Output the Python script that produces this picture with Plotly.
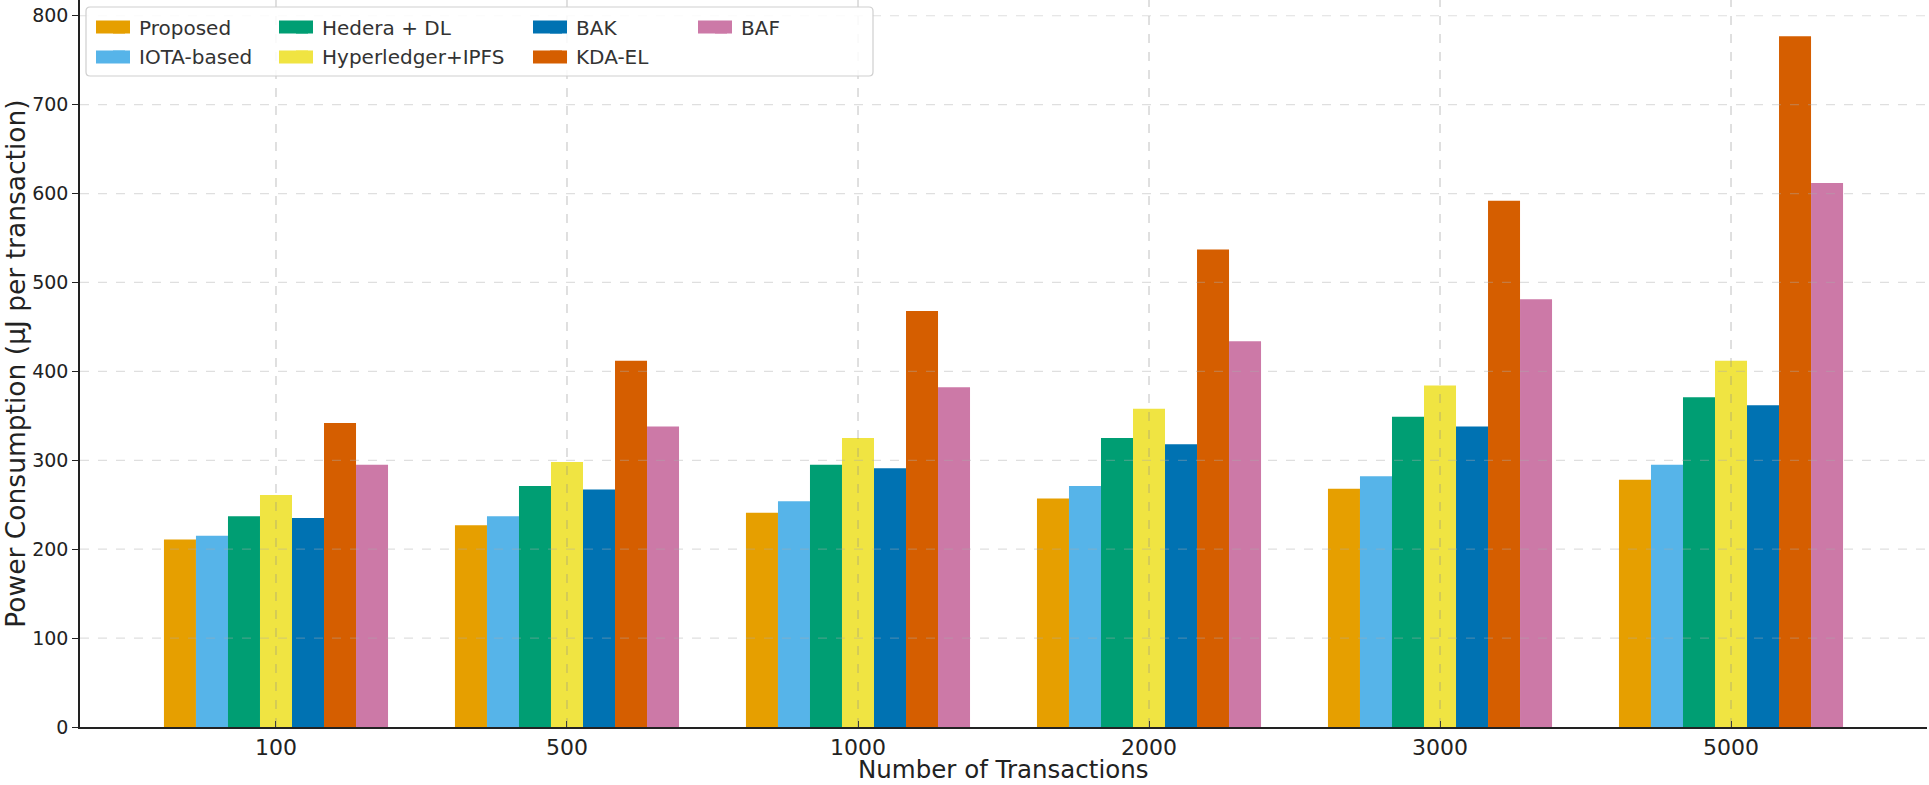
import plotly.graph_objects as go

categories = ["100", "500", "1000", "2000", "3000", "5000"]
series_names = ["Proposed", "IOTA-based", "Hedera + DL", "Hyperledger+IPFS", "BAK", "KDA-EL", "BAF"]
proposed = [211, 227, 241, 257, 268, 278]
iota_based = [215, 237, 254, 271, 282, 295]
hedera_dl = [237, 271, 295, 325, 349, 371]
hyperledger_ipfs = [261, 298, 325, 358, 384, 412]
bak = [235, 267, 291, 318, 338, 362]
kda_el = [342, 412, 468, 537, 592, 777]
baf = [295, 338, 382, 434, 481, 612]

series_values = [proposed, iota_based, hedera_dl, hyperledger_ipfs, bak, kda_el, baf]
colors = ["#E69F00", "#56B4E9", "#009E73", "#F0E442", "#0072B2", "#D55E00", "#CC79A7"]
legend_ids = ["legend", "legend", "legend2", "legend2", "legend3", "legend3", "legend4"]
y_ticks = [0, 100, 200, 300, 400, 500, 600, 700, 800]
x_title = "Number of Transactions"
y_title = "Power Consumption (μJ per transaction)"

FONT = "DejaVu Sans"
W, H = 1929, 785
L, R, T, B = 80, 2, 0, 58
pw = W - L - R
ph = H - T - B

fig = go.Figure()
for name, vals, col, lg in zip(series_names, series_values, colors, legend_ids):
    fig.add_trace(go.Bar(
        x=categories, y=vals, name=name, legend=lg,
        marker=dict(color=col, line=dict(width=0)),
    ))

def px_x(px):
    return (px - L) / pw

def px_y(py):
    return 1 - (py - T) / ph

# grid lines drawn above bars (semi-transparent, dashed), like the reference
for i, _c in enumerate(categories):
    fig.add_shape(type="line", xref="x", yref="paper", x0=i, x1=i, y0=0, y1=1,
                  line=dict(color="rgba(140,140,140,0.45)", width=1.2, dash="dash"), layer="above")
for v in y_ticks[1:]:
    fig.add_shape(type="line", xref="paper", yref="y", x0=0, x1=1, y0=v, y1=v,
                  line=dict(color="rgba(170,170,170,0.38)", width=1.2, dash="dash"), layer="above")

legend_common = dict(
    bgcolor="rgba(0,0,0,0)", borderwidth=0,
    font=dict(family=FONT, size=20, color="#333333"),
    orientation="v", xanchor="left", yanchor="top",
    itemwidth=30, tracegroupgap=0,
)
leg_y = px_y(8)
text_starts = [139, 322, 576, 741]
fig.update_layout(
    legend=dict(x=px_x(text_starts[0] - 40), y=leg_y, **legend_common),
    legend2=dict(x=px_x(text_starts[1] - 40), y=leg_y, **legend_common),
    legend3=dict(x=px_x(text_starts[2] - 40), y=leg_y, **legend_common),
    legend4=dict(x=px_x(text_starts[3] - 40), y=leg_y, **legend_common),
)

# legend frame with rounded corners
x0p, x1p, y0p, y1p = 86, 873, 7, 76
r = 4
rx, ry = r / pw, r / ph
X0, X1, Ytop, Ybot = px_x(x0p), px_x(x1p), px_y(y0p), px_y(y1p)
path = (f"M {X0+rx},{Ytop} L {X1-rx},{Ytop} Q {X1},{Ytop} {X1},{Ytop-ry} "
        f"L {X1},{Ybot+ry} Q {X1},{Ybot} {X1-rx},{Ybot} "
        f"L {X0+rx},{Ybot} Q {X0},{Ybot} {X0},{Ybot+ry} "
        f"L {X0},{Ytop-ry} Q {X0},{Ytop} {X0+rx},{Ytop} Z")
fig.add_shape(type="path", xref="paper", yref="paper", path=path,
              line=dict(color="#cfcfcf", width=1.2),
              fillcolor="rgba(255,255,255,0.85)", layer="above")

# wide legend swatches (matplotlib-style) behind the legend symbols
row_centers = [27, 57]
col_of = [0, 0, 1, 1, 2, 2, 3]
row_of = [0, 1, 0, 1, 0, 1, 0]
for col, ci, ri in zip(colors, col_of, row_of):
    ts = text_starts[ci]
    yc = row_centers[ri]
    fig.add_shape(type="rect", xref="paper", yref="paper",
                  x0=px_x(ts - 43), x1=px_x(ts - 9), y0=px_y(yc + 6.5), y1=px_y(yc - 6.5),
                  line=dict(width=0), fillcolor=col, layer="above")

# x-axis title as an explicitly placed text
fig.add_annotation(text=x_title, xref="paper", yref="paper", x=0.5, y=px_y(785),
                   xanchor="center", yanchor="bottom", showarrow=False, borderpad=0,
                   font=dict(family=FONT, size=24.5, color="#222222"))

fig.update_layout(
    width=W, height=H,
    margin=dict(l=L, r=R, t=T, b=B, pad=0),
    paper_bgcolor="white", plot_bgcolor="white",
    barmode="group", bargap=0.23, bargroupgap=0,
    font=dict(family=FONT, color="#222222"),
    showlegend=True,
)
fig.update_xaxes(
    type="category", range=[-0.6735, 5.6735],
    showline=True, linecolor="#222222", linewidth=1.5,
    ticks="inside", ticklen=6, tickwidth=1.2, tickcolor="#222222",
    ticklabelstandoff=0,
    tickfont=dict(family=FONT, size=22, color="#222222"),
    showgrid=False,
    automargin=False, zeroline=False,
)
fig.update_yaxes(
    range=[0, 817.7], tickvals=y_ticks,
    showline=True, linecolor="#222222", linewidth=1.5,
    ticks="outside", ticklen=6, tickwidth=1.2, tickcolor="#222222",
    tickfont=dict(family=FONT, size=19, color="#222222"),
    showgrid=False,
    title=dict(text=y_title, font=dict(family=FONT, size=26.5, color="#222222"), standoff=6),
    automargin=False, zeroline=False,
)

fig.write_html("out.html", config={"displayModeBar": False},
               post_script="document.body.style.margin='0';document.body.style.overflow='hidden';")
